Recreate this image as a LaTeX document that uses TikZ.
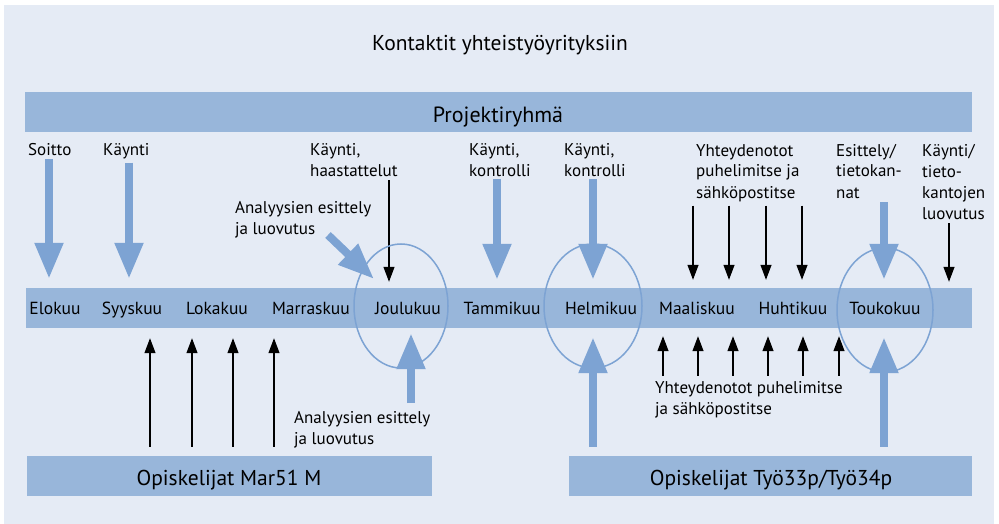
\documentclass[tikz,border=0pt]{standalone}
\usepackage{fontspec}
\setmainfont{PT Sans}
\usetikzlibrary{arrows.meta}
\definecolor{bgblue}{RGB}{229,235,245}
\definecolor{barblue}{RGB}{152,182,218}
\definecolor{arrblue}{RGB}{125,163,211}

\begin{document}
\begin{tikzpicture}[x=1pt,y=-1pt,
  every node/.style={font=\fontsize{17.5}{21}\selectfont, inner sep=0pt},
  bar/.style={fill=barblue, minimum height=40pt},
  big/.style={anchor=base, font=\fontsize{21.5}{25}\selectfont},
  kuu/.style={anchor=base},
  lbl/.style={anchor=base west, align=left, font=\fontsize{17}{21}\selectfont},
  thickarr/.style={draw=arrblue, line width=8pt, -{Triangle[length=36pt,width=27pt]}},
  thinarr/.style={draw=black, line width=1.2pt, -{Triangle[length=15pt,width=11pt]}},
  ring/.style={draw=arrblue, line width=1.5pt}]
\useasboundingbox (0,0) rectangle (999,524);
\fill[bgblue] (4,5) rectangle (994,524);

% otsikko ja palkit
\node (otsikko) [big] at (500,51) {Kontaktit yhteistyöyrityksiin};
\node (proj) [bar, minimum width=947pt] at (498.5,112) {};
\node (projt) [big, font=\fontsize{22}{26}\selectfont] at (498,123) {Projektiryhmä};
\node (kuut) [bar, minimum width=946pt] at (499,308) {};
\node (mar51) [bar, minimum width=405pt] at (229.5,476) {};
\node (mar51t) [big] at (229,485) {Opiskelijat Mar51 M};
\node (tyo) [bar, minimum width=403pt] at (770.5,476) {};
\node (tyot) [big] at (771,485) {Opiskelijat Työ33p/Työ34p};

% kuukaudet
\foreach \nimi/\x/\teksti in {elo/55/Elokuu, syys/132/Syyskuu, loka/217/Lokakuu,
  marras/311/Marraskuu, joulu/408/Joulukuu, tammi/502/Tammikuu, helmi/601/Helmikuu,
  maalis/697/Maaliskuu, huhti/793/Huhtikuu, touko/885/Toukokuu}
  \node (\nimi) [kuu] at (\x,314) {\teksti};

% tekstit ylhaalla (y = viimeisen rivin perusviiva)
\node (soitto) [lbl] at (28,156) {Soitto};
\node (kaynti) [lbl] at (103,156) {Käynti};
\node (haast) [lbl] at (310,177) {Käynti,\\haastattelut};
\node (analyysi) [lbl] at (235,234) {Analyysien esittely\\ja luovutus};
\node (kontr) [lbl] at (469,177) {Käynti,\\kontrolli};
\node (kontr2) [lbl] at (564,177) {Käynti,\\kontrolli};
\node (yht) [lbl] at (696,198) {Yhteydenotot\\puhelimitse ja\\sähköpostitse};
\node (esit) [lbl] at (836,198) {Esittely/\\tietokan-\\nat};
\node (kantojen) [lbl] at (922,219) {Käynti/\\tieto-\\kantojen\\luovutus};
% tekstit alhaalla
\node (analyysi2) [lbl] at (294,444) {Analyysien esittely\\ja luovutus};
\node (yht2) [lbl] at (655,414) {Yhteydenotot puhelimitse\\ja sähköpostitse};

% paksut nuolet
\foreach \x/\from in {49/soitto, 129/kaynti}
  \draw[thickarr, shorten <=3pt, shorten >=9pt] (\x,0 |- \from.south) -- (\x,0 |- kuut.north);
\foreach \x/\from in {497/kontr, 593/kontr2}
  \draw[thickarr, shorten <=2pt, shorten >=8pt] (\x,0 |- \from.south) -- (\x,0 |- kuut.north);
\draw[thickarr, shorten <=4pt, shorten >=8pt] (884,0 |- esit.south) -- (884,0 |- kuut.north);
\draw[thickarr] (328,235) -- (374,279);
\foreach \x in {593,884}
  \draw[thickarr, shorten <=9pt, shorten >=9pt] (\x,0 |- tyo.north) -- (\x,0 |- kuut.south);
\draw[thickarr, shorten >=5pt] (411,403) -- (411,0 |- kuut.south);

% ohuet nuolet
\draw[thinarr, shorten <=3pt, shorten >=6pt] (389,0 |- haast.south) -- (389,0 |- kuut.north);
\foreach \x in {693,729,766,802}
  \draw[thinarr, shorten <=4pt, shorten >=8pt] (\x,0 |- yht.south) -- (\x,0 |- kuut.north);
\draw[thinarr, shorten <=4pt, shorten >=6pt] (949,0 |- kantojen.south) -- (949,0 |- kuut.north);
\foreach \x in {150,192,233,274}
  \draw[thinarr, shorten <=9pt, shorten >=10pt] (\x,0 |- mar51.north) -- (\x,0 |- kuut.south);
\foreach \x in {663,698,733,768,803,839}
  \draw[thinarr, shorten <=5pt, shorten >=8pt] (\x,0 |- yht2.north) -- (\x,0 |- kuut.south);

% renkaat
\draw[ring] (401,306) ellipse [x radius=47, y radius=62];
\draw[ring] (593,306) ellipse [x radius=49, y radius=62];
\draw[ring] (885,310) ellipse [x radius=48, y radius=62];
\end{tikzpicture}
\end{document}
